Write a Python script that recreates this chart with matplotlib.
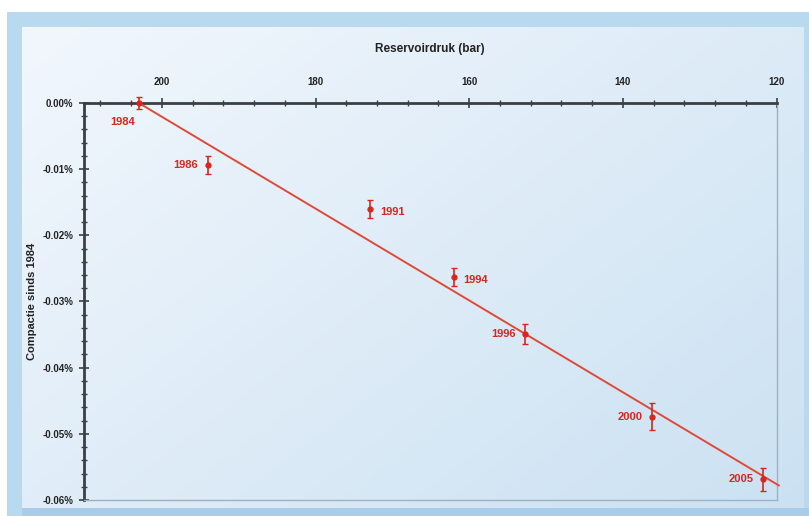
import matplotlib
matplotlib.use("Agg")
import matplotlib.pyplot as plt
import numpy as np
from matplotlib.ticker import MultipleLocator, FuncFormatter
from matplotlib.patches import Rectangle

plt.rcParams['axes.unicode_minus'] = False
plt.rcParams['font.family'] = ['Liberation Sans Narrow', 'Liberation Sans', 'DejaVu Sans']

# data
years = ['1984', '1986', '1991', '1994', '1996', '2000', '2005']
pressure = [203.0, 194.0, 172.9, 162.0, 152.7, 136.2, 121.7]
compaction = [0.0, -0.0094, -0.0160, -0.0263, -0.0349, -0.0474, -0.0569]
errors = [0.0009, 0.0014, 0.0014, 0.0013, 0.0015, 0.0020, 0.0017]
fit_p = [203.0, 119.7]
fit_c = [0.0, -0.0578]
label_side = ['below', 'left', 'right', 'right', 'left', 'left', 'left']

W, H = 809, 516
fig = plt.figure(figsize=(W / 100, H / 100), dpi=100, facecolor='white')

# outer frame + inner gradient panel drawn in one background axes
bg = fig.add_axes([0, 0, 1, 1], zorder=-5)
bg.set_axis_off()
bg.add_patch(Rectangle((7, 12), W - 7, H - 12, facecolor='#b9d9ef', edgecolor='none', zorder=0))
gx = np.linspace(0, 1, 200)
gy = np.linspace(0, 1, 200)
GX, GY = np.meshgrid(gx, gy)
t = np.clip(0.55 * GX + 0.45 * GY, 0, 1)
c0 = np.array([0xf2, 0xf7, 0xfd]) / 255
c1 = np.array([0xcb, 0xe1, 0xf2]) / 255
img = c0[None, None, :] * (1 - t[..., None]) + c1[None, None, :] * t[..., None]
bg.imshow(img, aspect='auto', extent=[22, W - 5, 508, 27], origin='upper', zorder=1)
bg.add_patch(Rectangle((22, 508), W - 22, H - 508, facecolor='#a9cde9', edgecolor='none', zorder=2))
bg.set_xlim(0, W)
bg.set_ylim(H, 0)

ax = fig.add_axes([83.5 / W, 16 / H, 693 / W, 397 / H], zorder=2)
ax.set_facecolor('none')

red = '#d8261b'
ax.plot(fit_p, fit_c, color='#df4a38', lw=1.4, zorder=3, clip_on=False)
ax.errorbar(pressure, compaction, yerr=errors, fmt='o', color=red, ms=3.5,
            capsize=2.5, elinewidth=1.2, capthick=1.0, zorder=4, clip_on=False)

for yr, p, c, side in zip(years, pressure, compaction, label_side):
    if side == 'below':
        ax.annotate(yr, (p, c), xytext=(-12, -14), textcoords='offset points',
                    color=red, fontsize=8, fontweight='bold', ha='center', va='center')
    elif side == 'left':
        ax.annotate(yr, (p, c), xytext=(-7, 0), textcoords='offset points',
                    color=red, fontsize=8, fontweight='bold', ha='right', va='center')
    else:
        ax.annotate(yr, (p, c), xytext=(7, -2), textcoords='offset points',
                    color=red, fontsize=8, fontweight='bold', ha='left', va='center')

ax.set_xlim(210.2, 120)
ax.set_ylim(-0.06, 0.0)
ax.xaxis.tick_top()
ax.xaxis.set_label_position('top')
ax.xaxis.set_major_locator(MultipleLocator(20))
ax.xaxis.set_minor_locator(MultipleLocator(4))
ax.yaxis.set_major_locator(MultipleLocator(0.01))
ax.yaxis.set_minor_locator(MultipleLocator(0.002))
ax.yaxis.set_major_formatter(FuncFormatter(lambda v, pos: '%.2f%%' % (0 if abs(v) < 1e-9 else v)))

for s in ['left', 'top']:
    ax.spines[s].set_color('#3a3f44')
    ax.spines[s].set_linewidth(2.0)
for s in ['right', 'bottom']:
    ax.spines[s].set_color('#9fb0bf')
    ax.spines[s].set_linewidth(1.0)

ax.tick_params(axis='both', which='major', direction='inout', length=7, width=1.2,
               color='#3a3f44', labelsize=7, labelcolor='#222222')
ax.tick_params(axis='both', which='minor', direction='inout', length=4, width=1.0,
               color='#3a3f44')
ax.tick_params(axis='x', which='major', pad=8)
ax.tick_params(axis='y', which='major', pad=4)
for lbl in ax.get_xticklabels() + ax.get_yticklabels():
    lbl.set_fontweight('bold')

ax.set_xlabel('Reservoirdruk (bar)', fontsize=8.5, fontweight='bold', labelpad=18, color='#222222')
ax.set_ylabel('Compactie sinds 1984', fontsize=8, fontweight='bold', labelpad=4, color='#222222')

fig.savefig('out.png', dpi=100, facecolor='white')
